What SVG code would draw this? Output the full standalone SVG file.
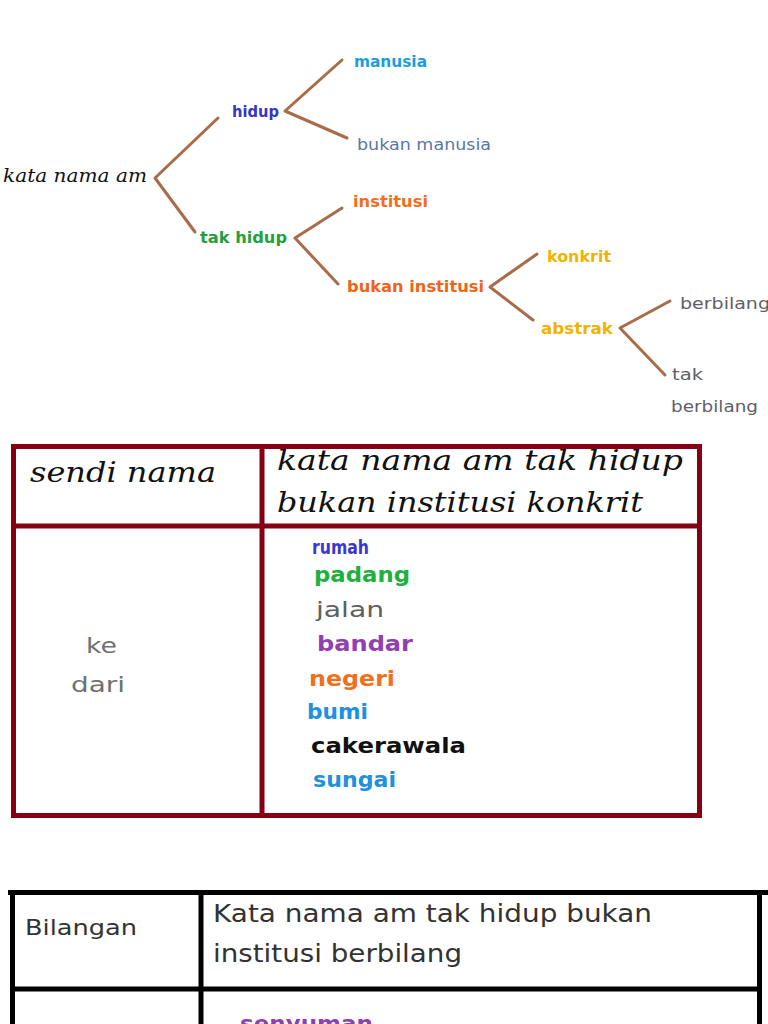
<svg xmlns="http://www.w3.org/2000/svg" width="768" height="1024" viewBox="0 0 768 1024">
<style>
.tl{font-family:"DejaVu Sans","Liberation Sans",sans-serif;font-size:16px;font-weight:bold}
.hw{font-family:"DejaVu Serif","Liberation Serif",serif;font-style:italic}
.cs{font-family:"DejaVu Sans","Liberation Sans",sans-serif;font-weight:bold}
.n{font-weight:normal}
.br{stroke:#a86c48;stroke-width:3;fill:none;stroke-linecap:round;stroke-linejoin:round}
.rb{stroke:#850012;stroke-width:5;fill:none}
.kb{stroke:#000;stroke-width:5;fill:none}
</style>
<rect width="768" height="1024" fill="#fff"/>
<g id="connectors">
<polyline class="br" points="218,118 155,178 195,232"/>
<polyline class="br" points="342,60 285,111 347,138"/>
<polyline class="br" points="342,208 295,238 338,284"/>
<polyline class="br" points="537,254 490,287 533,320"/>
<polyline class="br" points="670,301 620,328 665,375"/>
</g>
<g id="n-kata-nama-am"><text class="hw" x="3" y="182" font-size="19" fill="#111" textLength="144" lengthAdjust="spacingAndGlyphs">kata nama am</text></g>
<g id="n-hidup"><text class="tl" x="232" y="117" fill="#3535c8" textLength="47" lengthAdjust="spacingAndGlyphs">hidup</text></g>
<g id="n-manusia"><text class="tl" x="354" y="67" fill="#1a9ee0" textLength="73" lengthAdjust="spacingAndGlyphs">manusia</text></g>
<g id="n-bukan-manusia"><text class="tl n" x="357" y="150" fill="#5a76a8" textLength="134" lengthAdjust="spacingAndGlyphs">bukan manusia</text></g>
<g id="n-tak-hidup"><text class="tl" x="200" y="243" fill="#22a040" textLength="87" lengthAdjust="spacingAndGlyphs">tak hidup</text></g>
<g id="n-institusi"><text class="tl" x="353" y="207" fill="#f07020" textLength="75" lengthAdjust="spacingAndGlyphs">institusi</text></g>
<g id="n-bukan-institusi"><text class="tl" x="347" y="292" fill="#f06418" textLength="137" lengthAdjust="spacingAndGlyphs">bukan institusi</text></g>
<g id="n-konkrit"><text class="tl" x="547" y="262" fill="#f0b400" textLength="64" lengthAdjust="spacingAndGlyphs">konkrit</text></g>
<g id="n-abstrak"><text class="tl" x="541" y="334" fill="#f0b400" textLength="72" lengthAdjust="spacingAndGlyphs">abstrak</text></g>
<g id="n-berbilang"><text class="tl n" x="680" y="309" fill="#606068" textLength="90" lengthAdjust="spacingAndGlyphs">berbilang</text></g>
<g id="n-tak-berbilang"><text class="tl n" x="672" y="380" fill="#606068" textLength="31" lengthAdjust="spacingAndGlyphs">tak</text><text class="tl n" x="671" y="412" fill="#606068" textLength="87" lengthAdjust="spacingAndGlyphs">berbilang</text></g>

<g id="table1">
<rect class="rb" x="13.5" y="446.5" width="686" height="369"/>
<line class="rb" x1="262" y1="446" x2="262" y2="816"/>
<line class="rb" x1="13" y1="526" x2="700" y2="526"/>
<text class="hw" x="30" y="482" font-size="28" fill="#111" textLength="186" lengthAdjust="spacingAndGlyphs">sendi nama</text>
<text class="hw" x="277" y="470" font-size="28" fill="#111" textLength="406" lengthAdjust="spacingAndGlyphs">kata nama am tak hidup</text>
<text class="hw" x="277" y="512" font-size="28" fill="#111" textLength="366" lengthAdjust="spacingAndGlyphs">bukan institusi konkrit</text>
<text class="cs n" x="86" y="653" font-size="21" fill="#707070" textLength="31" lengthAdjust="spacingAndGlyphs">ke</text>
<text class="cs n" x="71" y="692" font-size="21" fill="#707070" textLength="54" lengthAdjust="spacingAndGlyphs">dari</text>
<text class="cs" x="312" y="554" font-size="19" fill="#3838d0" textLength="57" lengthAdjust="spacingAndGlyphs">rumah</text>
<text class="cs" x="314" y="582" font-size="21" fill="#20b040" textLength="96" lengthAdjust="spacingAndGlyphs">padang</text>
<text class="cs n" x="316" y="617" font-size="21" fill="#606060" textLength="68" lengthAdjust="spacingAndGlyphs">jalan</text>
<text class="cs" x="317" y="651" font-size="21" fill="#9040b0" textLength="96" lengthAdjust="spacingAndGlyphs">bandar</text>
<text class="cs" x="309" y="686" font-size="21" fill="#f07020" textLength="86" lengthAdjust="spacingAndGlyphs">negeri</text>
<text class="cs" x="307" y="719" font-size="21" fill="#2090e0" textLength="61" lengthAdjust="spacingAndGlyphs">bumi</text>
<text class="cs" x="311" y="753" font-size="21" fill="#111" textLength="155" lengthAdjust="spacingAndGlyphs">cakerawala</text>
<text class="cs" x="313" y="787" font-size="21" fill="#2090e0" textLength="83" lengthAdjust="spacingAndGlyphs">sungai</text>
</g>

<g id="table2">
<line class="kb" x1="8" y1="892.5" x2="768" y2="892.5"/>
<line class="kb" x1="12.5" y1="890" x2="12.5" y2="1024"/>
<line class="kb" x1="201" y1="890" x2="201" y2="1024"/>
<line class="kb" x1="759.5" y1="890" x2="759.5" y2="1024"/>
<line class="kb" x1="10" y1="989" x2="762" y2="989"/>
<text class="cs n" x="25" y="935" font-size="21" fill="#333" textLength="112" lengthAdjust="spacingAndGlyphs">Bilangan</text>
<text class="cs n" x="213" y="922" font-size="25" fill="#333" textLength="439" lengthAdjust="spacingAndGlyphs">Kata nama am tak hidup bukan</text>
<text class="cs n" x="213" y="962" font-size="25" fill="#333" textLength="249" lengthAdjust="spacingAndGlyphs">institusi berbilang</text>
<text class="cs" x="240" y="1031" font-size="22" fill="#9040b0" textLength="133" lengthAdjust="spacingAndGlyphs">senyuman</text>
</g>
</svg>
